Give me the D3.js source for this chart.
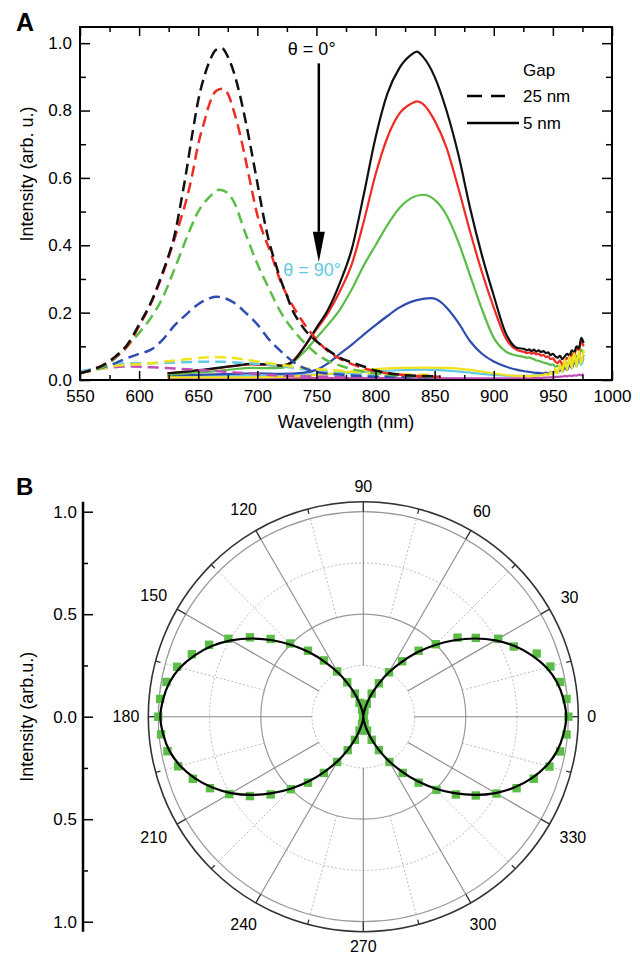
<!DOCTYPE html>
<html>
<head>
<meta charset="utf-8">
<script src="https://cdn.jsdelivr.net/npm/d3@7"></script>
<style>
  body { margin: 0; background: #fff; }
  svg { display: block; font-family: "Liberation Sans", Arial, Helvetica, sans-serif; }
</style>
</head>
<body>
<svg id="fig" width="640" height="956"></svg>
<script>
// ---- panel A : spectra, [wavelength nm, intensity] ----
const dashBlack = [[550,.02],[560,.03],[570,.045],[580,.07],[590,.105],[600,.165],[610,.23],[620,.32],[625,.37],[630,.43],[635,.52],[640,.62],[645,.73],[650,.83],[655,.90],[660,.95],[665,.98],[670,.985],[675,.96],[680,.915],[685,.85],[690,.77],[695,.68],[700,.585],[705,.49],[710,.41],[715,.35],[720,.295],[725,.25],[730,.205],[735,.175],[740,.15],[750,.115],[760,.088],[770,.066],[780,.052],[790,.04],[800,.028],[820,.016],[840,.012],[855,.01]];
const dashRed = [[550,.02],[560,.03],[570,.045],[580,.068],[590,.10],[600,.16],[610,.228],[620,.315],[625,.365],[630,.42],[635,.475],[640,.535],[645,.61],[650,.70],[655,.765],[660,.825],[665,.858],[670,.865],[675,.85],[680,.80],[685,.735],[690,.655],[695,.57],[700,.49],[705,.435],[710,.39],[720,.29],[730,.22],[740,.165],[750,.12],[760,.085],[770,.063],[780,.047],[790,.035],[800,.026],[810,.02],[830,.013],[855,.01]];
const dashGreen = [[550,.02],[560,.028],[570,.04],[580,.065],[590,.10],[600,.14],[610,.185],[620,.245],[630,.33],[640,.42],[650,.50],[660,.545],[668,.565],[675,.555],[680,.53],[690,.435],[700,.345],[710,.27],[720,.20],[730,.15],[740,.11],[750,.078],[760,.056],[770,.043],[780,.032],[800,.02],[820,.013],[850,.01]];
const dashBlue = [[550,.02],[560,.03],[570,.038],[580,.05],[590,.065],[600,.078],[610,.09],[620,.12],[630,.162],[640,.195],[650,.225],[660,.243],[665,.247],[670,.245],[680,.23],[690,.20],[700,.165],[710,.12],[720,.085],[730,.055],[740,.035],[750,.024],[770,.016],[800,.01],[850,.008]];
const dashYellow = [[550,.02],[560,.028],[570,.035],[580,.042],[590,.045],[610,.05],[630,.058],[650,.065],[665,.068],[680,.065],[700,.055],[720,.045],[740,.035],[760,.03],[780,.025],[800,.02],[850,.015]];
const dashCyan = [[550,.025],[560,.033],[570,.04],[580,.046],[590,.05],[610,.05],[630,.052],[650,.054],[670,.054],[690,.05],[710,.045],[730,.036],[750,.028],[770,.022],[800,.015],[850,.01]];
const dashMagenta = [[550,.025],[560,.03],[570,.035],[590,.04],[610,.038],[630,.034],[650,.03],[670,.025],[690,.02],[710,.015],[750,.01],[800,.008],[850,.006]];

const solidBlack = [[624,.02],[640,.025],[660,.033],[680,.042],[695,.048],[710,.046],[720,.043],[730,.055],[740,.10],[750,.155],[760,.21],[770,.29],[780,.39],[790,.55],[800,.72],[810,.85],[820,.925],[830,.965],[835,.975],[840,.96],[850,.90],[860,.80],[870,.67],[880,.51],[890,.37],[900,.25],[910,.14],[920,.095]];
const solidRed = [[624,.02],[640,.025],[660,.032],[680,.041],[695,.046],[710,.044],[720,.042],[730,.057],[740,.10],[750,.15],[760,.20],[770,.265],[780,.345],[790,.47],[800,.61],[810,.72],[820,.79],[830,.82],[835,.827],[840,.82],[850,.77],[860,.69],[870,.57],[880,.44],[890,.32],[900,.215],[910,.125],[920,.088]];
const solidGreen = [[624,.015],[640,.02],[660,.025],[680,.032],[695,.036],[710,.035],[720,.036],[730,.052],[740,.085],[750,.125],[760,.165],[770,.21],[780,.27],[790,.34],[800,.40],[810,.46],[820,.51],[830,.54],[840,.55],[850,.535],[860,.49],[870,.41],[880,.31],[890,.21],[900,.125],[910,.085],[920,.072]];
const solidBlue = [[624,.012],[650,.015],[680,.018],[700,.02],[720,.018],[740,.022],[750,.03],[760,.05],[770,.078],[780,.105],[790,.135],[800,.163],[810,.19],[820,.215],[830,.232],[840,.241],[847,.243],[855,.232],[860,.215],[870,.17],[880,.115],[890,.078],[900,.055],[910,.04],[920,.03]];
const solidYellow = [[624,.008],[660,.008],[700,.008],[740,.012],[760,.018],[780,.025],[800,.032],[820,.036],[840,.037],[860,.036],[880,.03],[900,.02],[920,.012]];
const solidCyan = [[624,.01],[700,.012],[740,.015],[780,.022],[800,.026],[820,.029],[840,.031],[860,.028],[880,.022],[900,.015],[920,.012]];
const solidMagenta = [[624,.006],[700,.006],[800,.006],[900,.005],[920,.005]];

// noisy long-wavelength end of the 5 nm spectra (926..976 nm, 2 nm step)
const tailNm = d3.range(926, 977, 2);
const tailBlack = [.092,.088,.091,.086,.090,.084,.088,.083,.086,.080,.082,.074,.078,.070,.066,.072,.062,.070,.078,.072,.088,.082,.100,.094,.125,.110];
const tailRed = [.083,.080,.082,.078,.081,.076,.078,.072,.075,.068,.070,.062,.064,.055,.050,.058,.046,.055,.066,.060,.078,.072,.095,.088,.115,.100];
const tailGreen = [.068,.066,.067,.064,.062,.058,.057,.054,.052,.050,.048,.045,.046,.040,.042,.036,.044,.040,.052,.046,.060,.055,.072,.066,.090,.080];
const tailBlue = [.026,.025,.024,.023,.022,.021,.021,.020,.020,.022,.018,.024,.020,.028,.022,.030,.026,.036,.030,.044,.036,.054,.045,.066,.060,.075];
const tailYellow = [.012,.012,.011,.012,.012,.013,.012,.014,.015,.018,.014,.024,.016,.034,.020,.045,.025,.060,.030,.070,.035,.080,.040,.085,.050,.090];
const tailCyan = [.012,.012,.012,.013,.013,.014,.014,.015,.016,.018,.017,.022,.019,.028,.022,.035,.025,.042,.030,.050,.034,.055,.040,.060,.045,.065];
const tailMagenta = [.005,.005,.005,.005,.006,.006,.006,.006,.007,.007,.008,.008,.008,.009,.009,.010,.010,.012,.011,.013,.012,.014,.013,.016,.014,.018];

const xMajor = [550,600,650,700,750,800,850,900,950,1000];
const yMajor = [0,0.2,0.4,0.6,0.8,1.0];

// ---- panel B : polar plot ----
const polarAngles = d3.range(0, 360, 5);
const polarData = [1.00,.995,.975,.945,.90,.81,.76,.67,.60,.50,.42,.33,.25,.18,.12,.065,.03,.01,.005,.01,.035,.07,.12,.185,.255,.335,.42,.505,.59,.675,.76,.83,.89,.94,.975,.995,
  1.00,.99,.97,.935,.885,.825,.755,.675,.59,.50,.42,.335,.255,.18,.12,.07,.035,.01,.005,.012,.035,.07,.12,.18,.255,.335,.42,.505,.59,.67,.75,.825,.885,.94,.975,.995];
const polarFit = [.99,.98,.96,.925,.875,.815,.745,.665,.58,.495,.41,.325,.25,.177,.116,.066,.03,.008,0,.008,.03,.066,.116,.177,.25,.325,.41,.495,.58,.665,.745,.815,.875,.925,.96,.98,
  .99,.98,.96,.925,.875,.815,.745,.665,.58,.495,.41,.325,.25,.177,.116,.066,.03,.008,0,.008,.03,.066,.116,.177,.25,.325,.41,.495,.58,.665,.745,.815,.875,.925,.96,.98];
const polarLabels = [0,30,60,90,120,150,180,210,240,270,300,330];
const polarAxisMajor = [-1,-0.5,0,0.5,1];

const COLORS = {
  black: "#111", red: "#ee2b24", green: "#5bbd46", blue: "#2f4db0",
  cyan: "#62c9e2", yellow: "#f2e21b", magenta: "#c24fb8",
};

const svg = d3.select("#fig");
const FONT = 17;

// ================= Panel A =================
const A = { left: 80, top: 27, right: 612, bottom: 380 };
const x = d3.scaleLinear().domain([550, 1000]).range([A.left, A.right]);
const y = d3.scaleLinear().domain([0, 1.048]).range([A.bottom, A.top]);

const gA = svg.append("g");
gA.append("defs").append("clipPath").attr("id", "clipA")
  .append("rect")
  .attr("x", A.left).attr("y", A.top)
  .attr("width", A.right - A.left).attr("height", A.bottom - A.top);

const withTail = (main, tail) => main.concat(tailNm.map((n, i) => [n, tail[i]]));

const solidSeries = [
  { color: COLORS.magenta, data: withTail(solidMagenta, tailMagenta) },
  { color: COLORS.cyan, data: withTail(solidCyan, tailCyan) },
  { color: COLORS.blue, data: withTail(solidBlue, tailBlue) },
  { color: COLORS.green, data: withTail(solidGreen, tailGreen) },
  { color: COLORS.red, data: withTail(solidRed, tailRed) },
  { color: COLORS.black, data: withTail(solidBlack, tailBlack) },
  { color: COLORS.yellow, data: withTail(solidYellow, tailYellow) },
];
const dashedSeries = [
  { color: COLORS.magenta, data: dashMagenta },
  { color: COLORS.cyan, data: dashCyan },
  { color: COLORS.yellow, data: dashYellow },
  { color: COLORS.blue, data: dashBlue },
  { color: COLORS.green, data: dashGreen },
  { color: COLORS.red, data: dashRed },
  { color: COLORS.black, data: dashBlack },
];

const line = d3.line()
  .x((d) => x(d[0]))
  .y((d) => y(d[1]))
  .curve(d3.curveMonotoneX);

const curves = gA.append("g").attr("clip-path", "url(#clipA)");

curves.selectAll(".solid")
  .data(solidSeries)
  .join("path")
  .attr("class", "solid")
  .attr("d", (d) => line(d.data))
  .attr("fill", "none")
  .attr("stroke", (d) => d.color)
  .attr("stroke-width", 2.2)
  .attr("stroke-linejoin", "round");

curves.selectAll(".dashed")
  .data(dashedSeries)
  .join("path")
  .attr("class", "dashed")
  .attr("d", (d) => line(d.data))
  .attr("fill", "none")
  .attr("stroke", (d) => d.color)
  .attr("stroke-width", 2.5)
  .attr("stroke-dasharray", "11,6");

function styleAxis(g) {
  g.select(".domain").remove();
  g.selectAll(".tick line").attr("stroke", "#000").attr("stroke-width", 1.5);
  g.selectAll("text")
    .attr("fill", "#000")
    .attr("font-size", FONT)
    .attr("font-family", "Liberation Sans, Arial, sans-serif");
}

const xMinor = d3.range(575, 1000, 50);
const yMinor = [0.1, 0.3, 0.5, 0.7, 0.9];

// bottom
gA.append("g").attr("transform", `translate(0,${A.bottom})`)
  .call(d3.axisBottom(x).tickValues(xMajor).tickSize(-9).tickPadding(10).tickFormat(d3.format("d")))
  .call(styleAxis);
gA.append("g").attr("transform", `translate(0,${A.bottom})`)
  .call(d3.axisBottom(x).tickValues(xMinor).tickSize(-5).tickFormat(""))
  .call(styleAxis);
// top
gA.append("g").attr("transform", `translate(0,${A.top})`)
  .call(d3.axisTop(x).tickValues(xMajor).tickSize(-9).tickFormat(""))
  .call(styleAxis);
gA.append("g").attr("transform", `translate(0,${A.top})`)
  .call(d3.axisTop(x).tickValues(xMinor).tickSize(-5).tickFormat(""))
  .call(styleAxis);
// left
gA.append("g").attr("transform", `translate(${A.left},0)`)
  .call(d3.axisLeft(y).tickValues(yMajor).tickSize(-10).tickPadding(8).tickFormat(d3.format(".1f")))
  .call(styleAxis);
gA.append("g").attr("transform", `translate(${A.left},0)`)
  .call(d3.axisLeft(y).tickValues(yMinor).tickSize(-6).tickFormat(""))
  .call(styleAxis);
// right
gA.append("g").attr("transform", `translate(${A.right},0)`)
  .call(d3.axisRight(y).tickValues(yMajor).tickSize(-10).tickFormat(""))
  .call(styleAxis);
gA.append("g").attr("transform", `translate(${A.right},0)`)
  .call(d3.axisRight(y).tickValues(yMinor).tickSize(-6).tickFormat(""))
  .call(styleAxis);

gA.append("rect")
  .attr("x", A.left).attr("y", A.top)
  .attr("width", A.right - A.left).attr("height", A.bottom - A.top)
  .attr("fill", "none").attr("stroke", "#000").attr("stroke-width", 2);

gA.append("text")
  .attr("transform", `translate(33,174) rotate(-90)`)
  .attr("text-anchor", "middle")
  .attr("font-size", 18)
  .text("Intensity (arb. u.)");

gA.append("text")
  .attr("x", 346).attr("y", 428)
  .attr("text-anchor", "middle")
  .attr("font-size", 18)
  .text("Wavelength (nm)");

gA.append("text")
  .attr("x", 16).attr("y", 31)
  .attr("font-size", 25).attr("font-weight", "bold")
  .text("A");

// arrow θ = 0° -> 90°
const ax = x(752);
gA.append("line")
  .attr("x1", ax).attr("x2", ax)
  .attr("y1", y(0.94)).attr("y2", y(0.44))
  .attr("stroke", "#000").attr("stroke-width", 2.5);
gA.append("path")
  .attr("d", `M${ax - 6},${y(0.44)} L${ax + 6},${y(0.44)} L${ax},${y(0.35)} Z`)
  .attr("fill", "#000");

gA.append("text")
  .attr("x", x(746)).attr("y", y(0.965))
  .attr("text-anchor", "middle")
  .attr("font-size", 18)
  .text("θ = 0°");
gA.append("text")
  .attr("x", x(722)).attr("y", y(0.31))
  .attr("font-size", 18)
  .attr("fill", COLORS.cyan)
  .text("θ = 90°");

// legend
const legX = 467;
const legend = gA.append("g");
legend.append("text").attr("x", legX + 56).attr("y", 76).attr("font-size", FONT).text("Gap");
legend.append("line")
  .attr("x1", legX).attr("x2", legX + 38).attr("y1", 96).attr("y2", 96)
  .attr("stroke", "#000").attr("stroke-width", 2.5).attr("stroke-dasharray", "15,9");
legend.append("text").attr("x", legX + 56).attr("y", 102).attr("font-size", FONT).text("25 nm");
legend.append("line")
  .attr("x1", legX).attr("x2", legX + 52).attr("y1", 123).attr("y2", 123)
  .attr("stroke", "#000").attr("stroke-width", 2.5);
legend.append("text").attr("x", legX + 56).attr("y", 129).attr("font-size", FONT).text("5 nm");

// ================= Panel B =================
const B = { cx: 363.3, cy: 716.7, rMax: 205, ring: 215, axisX: 83 };
const r = d3.scaleLinear().domain([0, 1]).range([0, B.rMax]);
const rad = (deg) => (deg * Math.PI) / 180;
const pt = (deg, rr) => [rr * Math.cos(rad(deg)), -rr * Math.sin(rad(deg))];

const gB = svg.append("g").attr("transform", `translate(${B.cx},${B.cy})`);

// grid circles
[0.25, 0.75].forEach((v) => {
  gB.append("circle").attr("r", r(v)).attr("fill", "none")
    .attr("stroke", "#bbb").attr("stroke-width", 1).attr("stroke-dasharray", "2,2");
});
[0.5, 1.0].forEach((v) => {
  gB.append("circle").attr("r", r(v)).attr("fill", "none")
    .attr("stroke", "#999").attr("stroke-width", 1.2);
});

// spokes
d3.range(0, 360, 30).forEach((a) => {
  const p0 = pt(a, r(0.25)), p1 = pt(a, r(1));
  gB.append("line").attr("x1", p0[0]).attr("y1", p0[1]).attr("x2", p1[0]).attr("y2", p1[1])
    .attr("stroke", "#8a8a8a").attr("stroke-width", 1.1);
  const t0 = pt(a, r(1)), t1 = pt(a, B.ring);
  gB.append("line").attr("x1", t0[0]).attr("y1", t0[1]).attr("x2", t1[0]).attr("y2", t1[1])
    .attr("stroke", "#333").attr("stroke-width", 1.4);
});
d3.range(15, 360, 30).forEach((a) => {
  const p0 = pt(a, r(0.5)), p1 = pt(a, r(1));
  gB.append("line").attr("x1", p0[0]).attr("y1", p0[1]).attr("x2", p1[0]).attr("y2", p1[1])
    .attr("stroke", "#bbb").attr("stroke-width", 1).attr("stroke-dasharray", "2,2");
  const t0 = pt(a, B.ring - 5), t1 = pt(a, B.ring);
  gB.append("line").attr("x1", t0[0]).attr("y1", t0[1]).attr("x2", t1[0]).attr("y2", t1[1])
    .attr("stroke", "#333").attr("stroke-width", 1.3);
});

gB.append("circle").attr("r", B.ring).attr("fill", "none")
  .attr("stroke", "#333").attr("stroke-width", 1.6);

// angle labels
gB.selectAll(".alabel")
  .data(polarLabels)
  .join("text")
  .attr("class", "alabel")
  .attr("font-size", 16)
  .attr("text-anchor", "middle")
  .attr("dy", "0.35em")
  .text((d) => d)
  .each(function (d) {
    const w = this.getComputedTextLength();
    const c = Math.abs(Math.cos(rad(d))), s = Math.abs(Math.sin(rad(d)));
    const rr = 224 + (w / 2) * c + 6 * s + 4 * Math.abs(Math.sin(rad(2 * d)));
    const p = pt(d, rr);
    d3.select(this).attr("x", p[0]).attr("y", p[1]);
  });

// data squares
const polarPts = polarAngles.map((a, i) => pt(a, r(polarData[i])));
gB.selectAll(".sq")
  .data(polarPts)
  .join("rect")
  .attr("class", "sq")
  .attr("x", (d) => d[0] - 4.2).attr("y", (d) => d[1] - 4.2)
  .attr("width", 8.4).attr("height", 8.4)
  .attr("fill", COLORS.green);

// fit curve
const radial = d3.lineRadial()
  .angle((d) => Math.PI / 2 - rad(d[0]))
  .radius((d) => r(d[1]))
  .curve(d3.curveCatmullRomClosed);
gB.append("path")
  .datum(polarAngles.map((a, i) => [a, polarFit[i]]))
  .attr("d", radial)
  .attr("fill", "none")
  .attr("stroke", "#000")
  .attr("stroke-width", 2.2);

// left intensity axis
const yB = d3.scaleLinear().domain([-1, 1]).range([B.cy + B.rMax, B.cy - B.rMax]);
svg.append("line")
  .attr("x1", B.axisX).attr("x2", B.axisX)
  .attr("y1", B.cy - B.ring).attr("y2", B.cy + B.ring)
  .attr("stroke", "#000").attr("stroke-width", 2.5);
svg.append("g").attr("transform", `translate(${B.axisX},0)`)
  .call(d3.axisLeft(yB).tickValues(polarAxisMajor).tickSize(-10).tickPadding(6)
    .tickFormat((d) => d3.format(".1f")(Math.abs(d))))
  .call(styleAxis);
svg.append("g").attr("transform", `translate(${B.axisX},0)`)
  .call(d3.axisLeft(yB).tickValues([-0.75, -0.25, 0.25, 0.75]).tickSize(-5).tickFormat(""))
  .call(styleAxis);

svg.append("text")
  .attr("transform", `translate(33,${B.cy}) rotate(-90)`)
  .attr("text-anchor", "middle")
  .attr("font-size", 18)
  .text("Intensity (arb.u.)");

svg.append("text")
  .attr("x", 16).attr("y", 495)
  .attr("font-size", 24).attr("font-weight", "bold")
  .text("B");
</script>
</body>
</html>
